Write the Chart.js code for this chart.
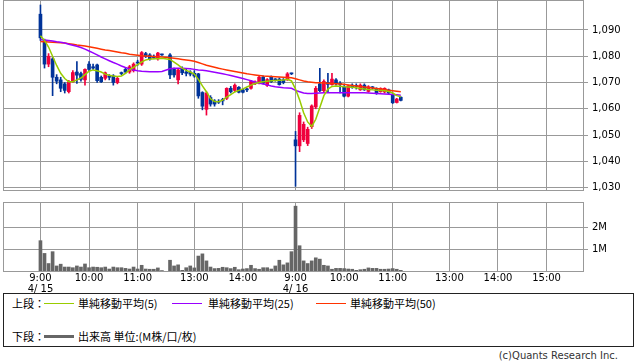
<!DOCTYPE html>
<html lang="ja">
<head>
<meta charset="UTF-8" />
<title>株価チャート 5分足</title>
<script src="https://cdn.jsdelivr.net/npm/chart.js"></script>
<style>
    body {
        margin: 0;
        width: 638px;
        height: 362px;
        overflow: hidden;
        position: relative;
        background: #fff;
        font-family: 'DejaVu Sans', sans-serif;
    }
    #priceCanvas { position: absolute; left: 0; top: 0; }
    #volCanvas { position: absolute; left: 0; top: 195px; }
    .legend {
        position: absolute;
        left: 3px; top: 293px;
        width: 629px; height: 52px;
        border: 1px solid #222;
        background: #fff;
        font-family: 'Noto Sans CJK JP', sans-serif;
        font-size: 11px;
        color: #000;
    }
    .legend span { position: absolute; white-space: nowrap; line-height: 12px; }
    .legend i { position: absolute; display: block; }
    .copy {
        position: absolute;
        right: 20px; top: 350px;
        font-size: 10px;
        color: #333;
    }
</style>
</head>
<body>

<canvas id="priceCanvas" width="638" height="200"></canvas>
<canvas id="volCanvas" width="638" height="100"></canvas>

<div class="legend">
    <span style="left:8px; top:3px;">上段：</span>
    <i style="left:40px; top:9px; width:30px; height:1px; background:#99cc00;"></i>
    <span style="left:74px; top:3px;">単純移動平均(5)</span>
    <i style="left:168px; top:9px; width:30px; height:1px; background:#9900ff;"></i>
    <span style="left:204px; top:3px;">単純移動平均(25)</span>
    <i style="left:312px; top:9px; width:30px; height:1px; background:#ff3300;"></i>
    <span style="left:346px; top:3px;">単純移動平均(50)</span>

    <span style="left:8px; top:36px;">下段：</span>
    <i style="left:40px; top:41px; width:30px; height:3px; background:#666;"></i>
    <span style="left:74px; top:36px;">出来高 単位:(M株/口/枚)</span>
</div>
<div class="copy">(c)Quants Research Inc.</div>

<script>
    // 5分足のスロット番号 (0 = 4/15 9:00, 31 = 昼休み, 63 = 4/16 9:00)
    const TICK_SLOTS = [0, 12, 24, 38, 50, 63, 75, 87, 101, 113, 125];
    const TICK_LABELS = ['9:00', '10:00', '11:00', '13:00', '14:00', '9:00', '10:00', '11:00', '13:00', '14:00', '15:00'];
    const DATE_LABELS = { 0: '4/ 15', 63: '4/ 16' };
    const PRICE_TICKS = [1030, 1040, 1050, 1060, 1070, 1080, 1090];
    const VOL_TICKS = [1, 2];

    const OPEN = [
        1096, 1086, 1077, 1079, 1072, 1071, 1069.5, 1066.5, 1070.3, 1074,
        1073.4, 1071, 1077, 1076, 1076.7, 1072, 1071.6, 1072.5, 1072.5, 1070,
        1073.6, 1075, 1074, 1074.5, 1077.6, 1077, 1081, 1080.5, 1080, 1079,
        1080.6, null, 1080.5, 1075, 1071, 1075.4, 1074, 1074, 1073.5, 1073.3,
        1066.2, 1059.8, 1064.3, 1063, 1062.8, 1063.5, 1064, 1067.8, 1067, 1068.2,
        1067.2, 1067.3, 1067.8, 1069.5, 1069.7, 1072, 1068.9, 1072, 1071.1, 1071.3,
        1071, 1071, 1073.4, 1048.2, 1045.9, 1048.2, 1046.8, 1053.2, 1060.7, 1069.5,
        1066.9, 1070, 1069.2, 1071, 1069.5, 1068.3, 1064.8, 1069, 1068.6, 1067.2,
        1069, 1066.6, 1068.1, 1067.8, 1066.5, 1066.4, 1067.2, 1065.5, 1062.4, 1064.4
    ];
    const HIGH = [
        1099.5, 1086.5, 1081, 1079.5, 1073, 1072, 1070, 1070.8, 1074.5, 1078,
        1074, 1075.2, 1078, 1077, 1077, 1072.5, 1074, 1073, 1073, 1072,
        1074, 1075.5, 1076.5, 1077.5, 1078.5, 1081.8, 1081.5, 1081, 1080.5, 1081.5,
        1080.8, null, 1081, 1075.5, 1075, 1076, 1075, 1074.5, 1074.5, 1073.5,
        1066.5, 1066.5, 1065, 1063.5, 1063.5, 1064, 1068, 1068.5, 1069.5, 1068.5,
        1067.5, 1067.8, 1070.8, 1070.6, 1072.5, 1072.5, 1071.5, 1072.5, 1071.5, 1071.8,
        1071.5, 1073.8, 1073.6, 1051.4, 1058.5, 1055, 1053, 1061.5, 1068.5, 1075.4,
        1071, 1073.5, 1073.5, 1071.5, 1070.4, 1068.8, 1069, 1069.5, 1069.5, 1069.5,
        1069.5, 1068.8, 1068.5, 1068, 1068, 1068, 1067.5, 1066, 1064, 1064.6
    ];
    const LOW = [
        1086, 1075.5, 1076, 1065, 1069.5, 1066.5, 1066, 1066, 1070, 1069.7,
        1070.5, 1069, 1074.5, 1075, 1070, 1070, 1071, 1071, 1069, 1069.5,
        1073, 1073.5, 1073.5, 1074, 1076.5, 1076.5, 1079.5, 1078.5, 1079, 1078.5,
        1080.3, null, 1071.5, 1072, 1069.5, 1073, 1072.5, 1072.5, 1072, 1064,
        1059.6, 1057.6, 1061, 1061, 1062, 1061.5, 1063.5, 1066, 1066.5, 1066,
        1066, 1066.5, 1067.5, 1069.2, 1069.5, 1069.5, 1068.5, 1070, 1070.5, 1069,
        1069.5, 1070.8, 1073, 1030.5, 1043.7, 1047.5, 1046, 1052.5, 1060, 1066.5,
        1066.5, 1066.5, 1069, 1069, 1066, 1064.5, 1064.5, 1067.8, 1067.5, 1067,
        1067, 1066.3, 1067.5, 1065.5, 1066.3, 1066, 1065.8, 1062, 1062.2, 1063
    ];
    const CLOSE = [
        1087, 1077, 1080, 1072, 1070.5, 1067.8, 1067, 1070.3, 1073.8, 1072.8,
        1071.2, 1075, 1075, 1075.5, 1070.7, 1070.3, 1073.7, 1072, 1070, 1071.6,
        1073.4, 1074, 1076, 1077, 1077.4, 1081.4, 1080, 1079, 1079.5, 1081.2,
        1080.5, null, 1072.9, 1072.9, 1074.8, 1073.7, 1073.5, 1073.2, 1072.5, 1064.9,
        1061, 1066, 1061.8, 1061.8, 1062.5, 1063, 1067.8, 1066.5, 1069, 1066.3,
        1066.3, 1067.2, 1070.4, 1070.2, 1072, 1069.7, 1071.1, 1070.3, 1071, 1069.2,
        1070, 1073.3, 1073.3, 1045.9, 1057.5, 1054.1, 1052.2, 1061.1, 1067.8, 1066.9,
        1070.4, 1069.3, 1071.3, 1069.5, 1069.3, 1064.8, 1068.6, 1068.2, 1068.5, 1069,
        1067.2, 1068.4, 1068, 1065.9, 1067.8, 1067.8, 1066, 1062.3, 1063.7, 1063.2
    ];
    // 出来高 (M株)
    const VOLUME = [
        1.38, 0.8, 0.34, 0.88, 0.23, 0.31, 0.18, 0.18, 0.15, 0.23,
        0.18, 0.32, 0.15, 0.18, 0.17, 0.15, 0.18, 0.09, 0.18, 0.15,
        0.15, 0.12, 0.09, 0.18, 0.09, 0.26, 0.09, 0.08, 0.08, 0.14,
        0.02, null, 0.49, 0.23, 0.28, 0.03, 0.15, 0.23, 0.14, 0.68,
        0.78, 0.46, 0.18, 0.11, 0.12, 0.17, 0.15, 0.11, 0.17, 0.06,
        0.09, 0.11, 0.26, 0.11, 0.08, 0.15, 0.15, 0.09, 0.23, 0.49,
        0.28, 0.37, 0.88, 2.95, 1.15, 0.46, 0.34, 0.46, 0.6, 0.54,
        0.26, 0.23, 0.08, 0.12, 0.12, 0.11, 0.09, 0.08, 0.03, 0.06,
        0.08, 0.14, 0.12, 0.12, 0.08, 0.08, 0.09, 0.11, 0.08, 0.03
    ];
    // 移動平均 (チャートから読み取り)
    const SMA5 = [
        1087.8, 1086, 1083.5, 1080, 1076.5, 1073.5, 1071.5, 1070.3, 1070.3, 1071,
        1071.7, 1073, 1074.3, 1074.8, 1074.5, 1074, 1073.2, 1072.8, 1072.5, 1072.3,
        1072.5, 1073.5, 1074.8, 1075.8, 1076.8, 1077.8, 1078.6, 1078.9, 1079, 1079,
        1079.2, null, 1078.8, 1077.8, 1076.7, 1075.5, 1074.6, 1074, 1073.2, 1071.2,
        1068.7, 1066.5, 1063.8, 1062.8, 1062.7, 1063.3, 1064.4, 1065.4, 1066.4, 1067,
        1067.6, 1068.3, 1069, 1069.6, 1070, 1070.3, 1070.5, 1070.7, 1070.8, 1070.9,
        1071, 1071.2, 1070.6, 1067.5, 1063.4, 1058.5, 1055, 1053.3, 1056, 1060.5,
        1065, 1067.5, 1068.5, 1068.7, 1068.6, 1068.4, 1068.3, 1068.2, 1068, 1067.7,
        1067.5, 1067.3, 1067.2, 1067.1, 1067, 1066.9, 1066.6, 1066, 1065, 1064.6
    ];
    const SMA25 = [
        1086.4, 1086.2, 1086, 1085.8, 1085.5, 1085.3, 1085, 1084.6, 1084.2, 1083.8,
        1083.3, 1082.7, 1082, 1081.3, 1080.5, 1079.7, 1079, 1078.3, 1077.6, 1077,
        1076.3, 1075.7, 1075.2, 1074.8, 1074.5, 1074.3, 1074.2, 1074.1, 1074.1, 1074.1,
        1074.2, null, 1075.2, 1075.4, 1075.4, 1075.4, 1075.3, 1075.2, 1075, 1074.8,
        1074.7, 1074.5, 1074.2, 1073.9, 1073.6, 1073.3, 1073, 1072.7, 1072.3, 1071.9,
        1071.5, 1071.1, 1070.7, 1070.2, 1069.8, 1069.4, 1069.1, 1068.7, 1068.4, 1068.2,
        1068, 1067.9, 1067.8, 1067, 1066.5, 1066, 1065.8, 1065.8, 1065.9, 1066,
        1066.1, 1066.1, 1066.1, 1066.1, 1066.1, 1066.1, 1066.1, 1066.1, 1066.1, 1066.1,
        1066.1, 1066, 1065.9, 1065.8, 1065.7, 1065.6, 1065.5, 1065.4, 1065.3, 1065.2
    ];
    const SMA50 = [
        1085.6, 1085.5, 1085.4, 1085.3, 1085.2, 1085.1, 1085, 1084.8, 1084.6, 1084.3,
        1084.1, 1083.9, 1083.6, 1083.3, 1083, 1082.7, 1082.4, 1082.2, 1081.9, 1081.6,
        1081.3, 1081.1, 1080.8, 1080.6, 1080.4, 1080.2, 1080.1, 1080, 1079.9, 1079.8,
        1079.7, null, 1079.4, 1079.2, 1079, 1078.8, 1078.6, 1078.4, 1078.1, 1077.6,
        1077.1, 1076.6, 1076.2, 1075.8, 1075.4, 1075.1, 1074.8, 1074.5, 1074.2, 1073.9,
        1073.6, 1073.3, 1073.1, 1072.9, 1072.7, 1072.5, 1072.4, 1072.3, 1072.2, 1072.1,
        1072, 1071.9, 1071.8, 1071.4, 1071, 1070.6, 1070.3, 1070.1, 1069.9, 1069.9,
        1069.8, 1069.7, 1069.6, 1069.5, 1069.4, 1069.3, 1069.1, 1068.9, 1068.7, 1068.5,
        1068.3, 1068.1, 1067.9, 1067.7, 1067.5, 1067.3, 1067.1, 1066.9, 1066.7, 1066.5
    ];

    const UP = '#f0003c';
    const DOWN = '#003399';
    const GRID = '#999999';
    const X_MIN = -9.25, X_MAX = 134;

    const slots = OPEN.map((v, i) => i).filter(i => OPEN[i] !== null);
    const candleColor = slots.map(i => CLOSE[i] >= OPEN[i] ? UP : DOWN);
    const toPoints = arr => arr.map((v, i) => ({ x: i, y: v }));

    // 枠線
    const frame = {
        id: 'frame',
        beforeDatasetsDraw(chart) {
            const { ctx, chartArea: a } = chart;
            ctx.save();
            ctx.strokeStyle = GRID;
            ctx.lineWidth = 1;
            ctx.strokeRect(Math.round(a.left) + 0.5, Math.round(a.top) + 0.5,
                Math.round(a.right - a.left), Math.round(a.bottom - a.top));
            ctx.restore();
        }
    };

    const xTicks = scale => { scale.ticks = TICK_SLOTS.map(v => ({ value: v })); };
    // 右軸: 幅固定、ラベル分の上下余白なし
    const fitRight = s => { s.width = 55; s.paddingTop = 0; s.paddingBottom = 0; };

    // 上段: ローソク足 + 移動平均
    new Chart(document.getElementById('priceCanvas'), {
        type: 'bar',
        data: {
            datasets: [
                { type: 'line', label: 'SMA5', data: toPoints(SMA5), borderColor: '#99cc00', borderWidth: 1.5, pointRadius: 0, spanGaps: true, order: 0 },
                { type: 'line', label: 'SMA25', data: toPoints(SMA25), borderColor: '#9900ff', borderWidth: 1.5, pointRadius: 0, spanGaps: true, order: 0 },
                { type: 'line', label: 'SMA50', data: toPoints(SMA50), borderColor: '#ff3300', borderWidth: 1.5, pointRadius: 0, spanGaps: true, order: 0 },
                {
                    label: '実体',
                    data: slots.map(i => ({ x: i, y: [OPEN[i], CLOSE[i]] })),
                    backgroundColor: candleColor,
                    barThickness: 3, minBarLength: 1, grouped: false, order: 1
                },
                {
                    label: 'ヒゲ',
                    data: slots.map(i => ({ x: i, y: [LOW[i], HIGH[i]] })),
                    backgroundColor: candleColor,
                    barThickness: 1, grouped: false, order: 2
                }
            ]
        },
        options: {
            responsive: false,
            animation: false,
            layout: { padding: { left: 3, top: 0, right: 0, bottom: 0 } },
            plugins: { legend: { display: false }, tooltip: { enabled: false } },
            scales: {
                x: {
                    type: 'linear', min: X_MIN, max: X_MAX, offset: false,
                    afterBuildTicks: xTicks,
                    ticks: { display: false },
                    grid: { color: GRID, drawTicks: false, offset: false },
                    border: { display: false },
                    afterFit: s => { s.height = 10; s.paddingLeft = 0; s.paddingRight = 0; }
                },
                y: {
                    position: 'right', min: 1029.1, max: 1101.4,
                    afterBuildTicks: s => { s.ticks = PRICE_TICKS.map(v => ({ value: v })); },
                    ticks: {
                        callback: v => v.toLocaleString('en-US'),
                        font: { family: 'DejaVu Sans', size: 10 },
                        color: '#000', padding: 4
                    },
                    grid: { color: GRID, tickLength: 5 },
                    border: { display: false },
                    afterFit: fitRight
                }
            }
        },
        plugins: [frame]
    });

    // 下段: 出来高
    new Chart(document.getElementById('volCanvas'), {
        type: 'bar',
        data: {
            datasets: [{
                label: '出来高',
                data: slots.map(i => ({ x: i, y: VOLUME[i] })),
                backgroundColor: '#666666',
                barThickness: 3
            }]
        },
        options: {
            responsive: false,
            animation: false,
            layout: { padding: { left: 3, top: 7, right: 0, bottom: 0 } },
            plugins: { legend: { display: false }, tooltip: { enabled: false } },
            scales: {
                x: {
                    type: 'linear', min: X_MIN, max: X_MAX, offset: false,
                    afterBuildTicks: xTicks,
                    ticks: {
                        autoSkip: false, maxRotation: 0, padding: 2,
                        font: { family: 'DejaVu Sans', size: 10, lineHeight: 1.1 },
                        color: '#000',
                        callback: v => {
                            const k = TICK_SLOTS.indexOf(v);
                            return DATE_LABELS[v] ? [TICK_LABELS[k], DATE_LABELS[v]] : TICK_LABELS[k];
                        }
                    },
                    grid: { color: GRID, drawTicks: false, offset: false },
                    border: { display: false },
                    afterFit: s => { s.height = 24; s.paddingLeft = 0; s.paddingRight = 0; }
                },
                y: {
                    position: 'right', min: 0, max: 3.14,
                    afterBuildTicks: s => { s.ticks = VOL_TICKS.map(v => ({ value: v })); },
                    ticks: {
                        callback: v => v + 'M',
                        font: { family: 'DejaVu Sans', size: 10 },
                        color: '#000', padding: 4
                    },
                    grid: { color: GRID, tickLength: 5 },
                    border: { display: false },
                    afterFit: fitRight
                }
            }
        },
        plugins: [frame]
    });
</script>

</body>
</html>
